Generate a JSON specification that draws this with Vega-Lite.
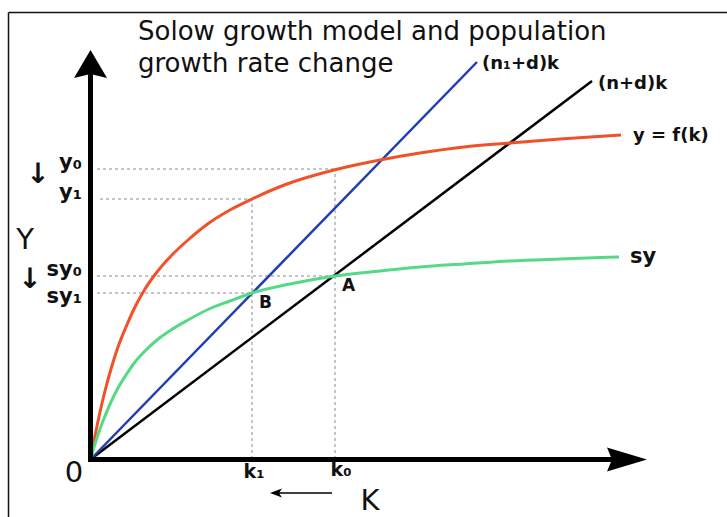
{
  "$schema": "https://vega.github.io/schema/vega-lite/v6.json",
  "width": 727,
  "height": 517,
  "padding": 0,
  "autosize": "none",
  "background": "white",
  "config": {"view": {"stroke": null}},
  "datasets": {
    "frame": [
      {"x": -82.5, "y": 446.5, "x2": -82.5, "y2": -60},
      {"x": -82.5, "y": 446.5, "x2": 640, "y2": 446.5}
    ],
    "guides": [
      {"x": 6, "y": 290, "x2": 244, "y2": 290},
      {"x": 9, "y": 260, "x2": 161, "y2": 260},
      {"x": 6, "y": 183, "x2": 244, "y2": 183},
      {"x": 6, "y": 166, "x2": 161, "y2": 166},
      {"x": 161, "y": 0, "x2": 161, "y2": 260},
      {"x": 244, "y": 0, "x2": 244, "y2": 290}
    ],
    "orange": [
      {"x": 0, "y": 0}, {"x": 2, "y": 13}, {"x": 5, "y": 28}, {"x": 9, "y": 47}, {"x": 14, "y": 68},
      {"x": 20, "y": 90}, {"x": 27, "y": 112}, {"x": 35, "y": 132}, {"x": 44, "y": 152}, {"x": 54, "y": 170},
      {"x": 66, "y": 187}, {"x": 80, "y": 203}, {"x": 97, "y": 219}, {"x": 118, "y": 236}, {"x": 139, "y": 249},
      {"x": 161, "y": 260}, {"x": 196, "y": 275}, {"x": 243, "y": 289}, {"x": 289, "y": 299}, {"x": 329, "y": 306},
      {"x": 373, "y": 312}, {"x": 419, "y": 316}, {"x": 469, "y": 320}, {"x": 530, "y": 324}
    ],
    "green": [
      {"x": 0, "y": 0}, {"x": 2, "y": 8}, {"x": 5, "y": 18}, {"x": 9, "y": 30}, {"x": 14, "y": 43},
      {"x": 20, "y": 57}, {"x": 27, "y": 71}, {"x": 35, "y": 84}, {"x": 44, "y": 97}, {"x": 54, "y": 108},
      {"x": 66, "y": 119}, {"x": 80, "y": 129}, {"x": 97, "y": 139}, {"x": 118, "y": 150}, {"x": 139, "y": 158},
      {"x": 161, "y": 166}, {"x": 199, "y": 175}, {"x": 244, "y": 183}, {"x": 289, "y": 188}, {"x": 329, "y": 192},
      {"x": 373, "y": 195}, {"x": 419, "y": 198}, {"x": 469, "y": 200}, {"x": 528, "y": 202}
    ],
    "blue": [{"x": 0, "y": 0}, {"x": 386, "y": 397}],
    "black": [{"x": 0, "y": 0}, {"x": 501, "y": 378}],
    "axes": [
      {"x": -0.5, "y": -3, "x2": -0.5, "y2": 387},
      {"x": -3, "y": -0.5, "x2": 521, "y2": -0.5}
    ],
    "yarrow": [{"x": -0.5, "y": 395}],
    "xarrow": [{"x": 536, "y": -0.5}],
    "karrow": [{"x": 183, "y": -34, "x2": 241, "y2": -34}],
    "karrowhead": [{"x": 185, "y": -34}],
    "title": [
      {"x": 47, "y": 419, "label": "Solow growth model and population"},
      {"x": 47, "y": 387, "label": "growth rate change"}
    ],
    "linelabels": [
      {"x": 391, "y": 395, "label": "(n₁+d)k"},
      {"x": 507, "y": 375, "label": "(n+d)k"},
      {"x": 542, "y": 323, "label": "y = f(k)"}
    ],
    "sylabel": [
      {"x": 539, "y": 202, "label": "sy"}
    ],
    "pointlabels": [
      {"x": 251, "y": 173, "label": "A"},
      {"x": 168, "y": 156, "label": "B"}
    ],
    "ylabels": [
      {"x": -9, "y": 296, "label": "y₀"},
      {"x": -9, "y": 266, "label": "y₁"},
      {"x": -9, "y": 189, "label": "sy₀"},
      {"x": -9, "y": 162, "label": "sy₁"}
    ],
    "klabels": [
      {"x": 163, "y": -13, "label": "k₁"},
      {"x": 250, "y": -11, "label": "k₀"}
    ],
    "big": [
      {"x": -66, "y": 219, "label": "Y"},
      {"x": 279, "y": -42, "label": "K"},
      {"x": -17, "y": -14, "label": "0"}
    ],
    "downs": [
      {"x": -53, "y": 284, "label": "↓"},
      {"x": -61, "y": 179, "label": "↓"}
    ]
  },
  "encoding": {
    "x": {"field": "x", "type": "quantitative", "scale": {"domain": [-91, 636], "nice": false, "zero": false}, "axis": null},
    "y": {"field": "y", "type": "quantitative", "scale": {"domain": [-58, 459], "nice": false, "zero": false}, "axis": null}
  },
  "layer": [
    {"data": {"name": "frame"}, "mark": {"type": "rule", "color": "#111111", "strokeWidth": 1.5},
     "encoding": {"x2": {"field": "x2"}, "y2": {"field": "y2"}}},
    {"data": {"name": "guides"}, "mark": {"type": "rule", "color": "#8a8a8a", "strokeWidth": 1, "strokeDash": [3, 3]},
     "encoding": {"x2": {"field": "x2"}, "y2": {"field": "y2"}}},
    {"data": {"name": "black"}, "mark": {"type": "line", "color": "#000000", "strokeWidth": 2.5}, "encoding": {}},
    {"data": {"name": "blue"}, "mark": {"type": "line", "color": "#1f3fb0", "strokeWidth": 2.5}, "encoding": {}},
    {"data": {"name": "orange"}, "mark": {"type": "line", "color": "#ef5228", "strokeWidth": 3, "interpolate": "monotone"}, "encoding": {}},
    {"data": {"name": "green"}, "mark": {"type": "line", "color": "#55d984", "strokeWidth": 3, "interpolate": "monotone"}, "encoding": {}},
    {"data": {"name": "axes"}, "mark": {"type": "rule", "color": "#000000", "strokeWidth": 5},
     "encoding": {"x2": {"field": "x2"}, "y2": {"field": "y2"}}},
    {"data": {"name": "yarrow"}, "mark": {"type": "point", "shape": "M0,-0.85L1,0.85L0,0.6L-1,0.85Z", "size": 1089, "filled": true, "color": "#000000", "opacity": 1, "strokeWidth": 0}},
    {"data": {"name": "xarrow"}, "mark": {"type": "point", "shape": "M1,0L-1,-0.6L-0.75,0L-1,0.6Z", "size": 1600, "filled": true, "color": "#000000", "opacity": 1, "strokeWidth": 0}},
    {"data": {"name": "karrow"}, "mark": {"type": "rule", "color": "#000000", "strokeWidth": 1.5},
     "encoding": {"x2": {"field": "x2"}, "y2": {"field": "y2"}}},
    {"data": {"name": "karrowhead"}, "mark": {"type": "point", "shape": "M-1,0L1,-0.75L0.5,0L1,0.75Z", "size": 144, "filled": true, "color": "#000000", "opacity": 1, "strokeWidth": 0}},
    {"data": {"name": "title"}, "mark": {"type": "text", "align": "left", "baseline": "alphabetic", "font": "DejaVu Sans", "fontSize": 26, "color": "#111111"},
     "encoding": {"text": {"field": "label"}}},
    {"data": {"name": "linelabels"}, "mark": {"type": "text", "align": "left", "baseline": "middle", "font": "DejaVu Sans", "fontWeight": "bold", "fontSize": 18, "color": "#111111"},
     "encoding": {"text": {"field": "label"}}},
    {"data": {"name": "sylabel"}, "mark": {"type": "text", "align": "left", "baseline": "middle", "font": "DejaVu Sans", "fontWeight": "bold", "fontSize": 21, "color": "#111111"},
     "encoding": {"text": {"field": "label"}}},
    {"data": {"name": "pointlabels"}, "mark": {"type": "text", "align": "left", "baseline": "middle", "font": "DejaVu Sans", "fontWeight": "bold", "fontSize": 17, "color": "#111111"},
     "encoding": {"text": {"field": "label"}}},
    {"data": {"name": "ylabels"}, "mark": {"type": "text", "align": "right", "baseline": "middle", "font": "DejaVu Sans", "fontWeight": "bold", "fontSize": 21, "color": "#111111"},
     "encoding": {"text": {"field": "label"}}},
    {"data": {"name": "klabels"}, "mark": {"type": "text", "align": "center", "baseline": "middle", "font": "DejaVu Sans", "fontWeight": "bold", "fontSize": 19, "color": "#111111"},
     "encoding": {"text": {"field": "label"}}},
    {"data": {"name": "big"}, "mark": {"type": "text", "align": "center", "baseline": "middle", "font": "DejaVu Sans", "fontSize": 29, "color": "#111111"},
     "encoding": {"text": {"field": "label"}}},
    {"data": {"name": "downs"}, "mark": {"type": "text", "align": "center", "baseline": "middle", "font": "DejaVu Sans", "fontWeight": "bold", "fontSize": 28, "color": "#111111"},
     "encoding": {"text": {"field": "label"}}}
  ]
}
